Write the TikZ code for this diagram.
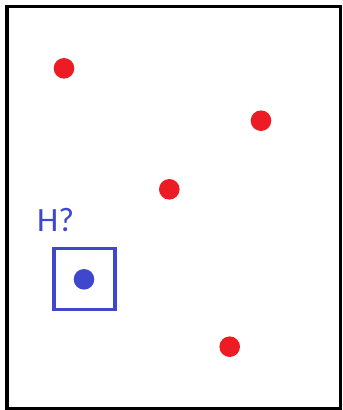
\documentclass[tikz,border=0pt]{standalone}
\usepackage{fontspec}
\setsansfont{Carlito}
\usepackage{xcolor}
\usepackage{tikz}
\usetikzlibrary{positioning}
\definecolor{pointred}{HTML}{ED1C24}
\definecolor{querblue}{HTML}{3F48CC}
\tikzset{
  frame/.style={draw=black, line width=3.5pt},
  samplept/.style={circle, fill=pointred, minimum size=20.6pt, inner sep=0pt},
  querypt/.style={circle, fill=querblue, minimum size=20.6pt, inner sep=0pt},
  querybox/.style={draw=querblue, line width=3.3pt, minimum size=61pt, inner sep=0pt},
  querylabel/.style={text=querblue, font=\sffamily\fontsize{34}{34}\selectfont, inner sep=0pt}
}

\begin{document}
\begin{tikzpicture}[x=1pt, y=-1pt]
  \useasboundingbox (0,0) rectangle (343,410);
  \node[draw=none, minimum width=333.5pt, minimum height=402pt, frame] (border) at (173.75,207.5) {};

  \node[samplept] (ptA) at (64,68.3) {};
  \node[samplept] (ptB) at (261,120.7) {};
  \node[samplept] (ptC) at (169.3,189.3) {};
  \node[samplept] (ptD) at (229.7,346.7) {};

  \node[querybox] (window) at (84.5,279.3) {};
  \node[querypt] (query) at (84,279.3) {};
  \node[querylabel, anchor=base west] (hlabel) at (37,231) {H?};
\end{tikzpicture}
\end{document}
